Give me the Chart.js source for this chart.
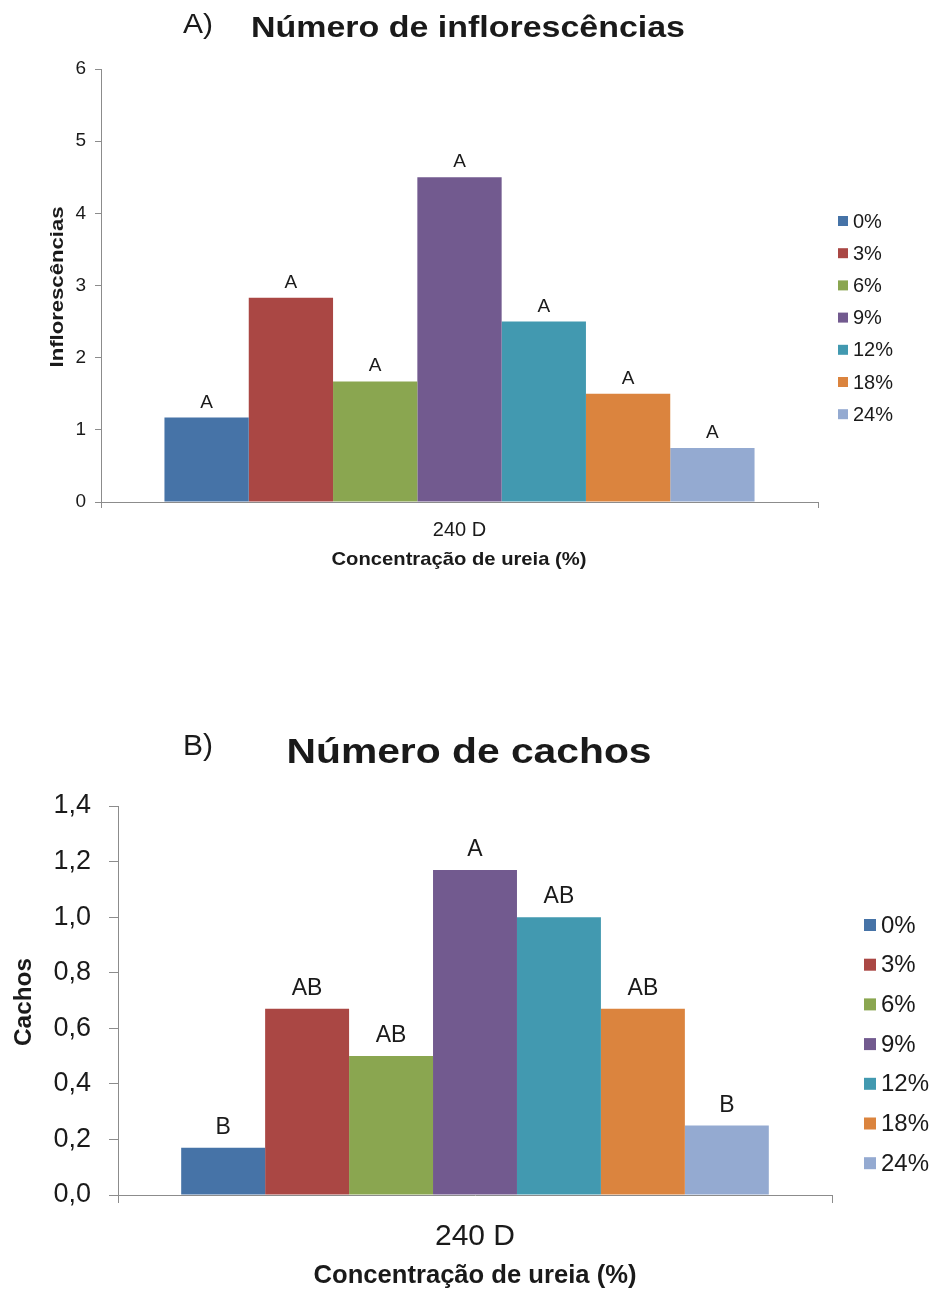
<!DOCTYPE html>
<html>
<head>
<meta charset="utf-8">
<script src="https://cdn.jsdelivr.net/npm/chart.js@4.4.1/dist/chart.umd.min.js"></script>
<style>
  html, body { margin: 0; padding: 0; background: #fff; }
  body { width: 936px; height: 1289px; position: relative; overflow: hidden; }
  .panel { position: absolute; left: 0; width: 936px; }
</style>
</head>
<body>
<div class="panel" style="top:0;height:640px"><canvas id="chartA" width="936" height="640"></canvas></div>
<div class="panel" style="top:660px;height:629px"><canvas id="chartB" width="936" height="629"></canvas></div>
<script>
// Data (one category, seven urea concentrations)
const CATEGORIES = ["240 D"];
const CONCENTRATIONS = ["0%", "3%", "6%", "9%", "12%", "18%", "24%"];
const COLORS = ["#4673a7", "#aa4744", "#8aa650", "#725a8f", "#4299b0", "#db843e", "#94aad1"];

const INFLORESCENCES = [1.17, 2.83, 1.67, 4.5, 2.5, 1.5, 0.75];
const INFL_LETTERS = ["A", "A", "A", "A", "A", "A", "A"];
const INFL_TICKS = [0, 1, 2, 3, 4, 5, 6];
const INFL_TICK_LABELS = ["0", "1", "2", "3", "4", "5", "6"];

const CACHOS = [0.17, 0.67, 0.5, 1.17, 1.0, 0.67, 0.25];
const CACHOS_LETTERS = ["B", "AB", "AB", "A", "AB", "AB", "B"];
const CACHOS_TICKS = [0, 0.2, 0.4, 0.6, 0.8, 1.0, 1.2, 1.4];
const CACHOS_TICK_LABELS = ["0,0", "0,2", "0,4", "0,6", "0,8", "1,0", "1,2", "1,4"];

const FONT = "'Liberation Sans', Arial, sans-serif";
const INK = "#1a1a1a";
const AXIS = "#8c8c8c";

Chart.defaults.font.family = FONT;
Chart.defaults.color = INK;

// draw text squeezed/stretched to a given width (the source image is a bit wide)
function fitText(ctx, text, x, y, font, width, align, rotate) {
  ctx.save();
  ctx.font = font;
  const w = ctx.measureText(text).width;
  const sx = width ? width / w : 1;
  ctx.translate(x, y);
  if (rotate) ctx.rotate(-Math.PI / 2);
  ctx.scale(sx, 1);
  ctx.textAlign = align || "center";
  ctx.textBaseline = "middle";
  ctx.fillStyle = INK;
  ctx.fillText(text, 0, 0);
  ctx.restore();
}

const annotate = {
  id: "annotate",
  afterDraw(chart, args, o) {
    const ctx = chart.ctx;
    fitText(ctx, o.panel, o.panelX, o.panelY, o.panelFont, o.panelW, "left");
    fitText(ctx, o.title, o.titleX, o.titleY, o.titleFont, o.titleW);
    fitText(ctx, o.yTitle, o.yTitleX, o.yTitleY, o.yTitleFont, o.yTitleW, "center", true);
    fitText(ctx, o.xTitle, o.xTitleX, o.xTitleY, o.xTitleFont, o.xTitleW);

    // significance letters above each bar
    ctx.save();
    ctx.font = o.letterFont;
    ctx.fillStyle = INK;
    ctx.textAlign = "center";
    ctx.textBaseline = "alphabetic";
    chart.data.datasets.forEach((ds, i) => {
      const bar = chart.getDatasetMeta(i).data[0];
      ctx.fillText(o.letters[i], bar.x, bar.y - o.letterGap);
    });
    ctx.restore();

    // legend on the right
    ctx.save();
    ctx.font = o.legendFont;
    ctx.textBaseline = "middle";
    ctx.textAlign = "left";
    chart.data.datasets.forEach((ds, i) => {
      const y = o.legendY + i * o.legendDy;
      ctx.fillStyle = ds.backgroundColor;
      ctx.fillRect(o.legendX, y - o.legendBox / 2, o.legendBox, o.legendBox);
      ctx.fillStyle = INK;
      ctx.fillText(ds.label, o.legendX + o.legendBox + 5, y + 1);
    });
    ctx.restore();
  }
};

function makeChart(id, p) {
  const canvas = document.getElementById(id);
  return new Chart(canvas, {
    type: "bar",
    data: {
      labels: CATEGORIES,
      datasets: CONCENTRATIONS.map((c, i) => ({
        label: c,
        data: [p.values[i]],
        backgroundColor: COLORS[i],
        borderWidth: 0,
        barPercentage: 1,
        categoryPercentage: 0.823
      }))
    },
    options: {
      responsive: false,
      animation: false,
      layout: { padding: { left: 0, top: p.area.top, right: canvas.width - p.area.right, bottom: 0 } },
      plugins: {
        legend: { display: false },
        tooltip: { enabled: false },
        annotate: p.notes
      },
      scales: {
        x: {
          afterFit: (s) => { s.height = canvas.height - p.area.bottom; },
          grid: { display: true, drawOnChartArea: false, drawTicks: true, tickLength: p.xTickLen, color: AXIS },
          border: { display: true, color: AXIS, width: 1 },
          ticks: { font: { size: p.xTickSize }, color: INK, padding: p.xTickPad }
        },
        y: {
          min: p.ticks[0],
          max: p.ticks[p.ticks.length - 1],
          afterFit: (s) => { s.width = p.area.left; },
          afterBuildTicks: (s) => { s.ticks = p.ticks.map((v) => ({ value: v })); },
          grid: { display: true, drawOnChartArea: false, drawTicks: true, tickLength: p.yTickLen, color: AXIS },
          border: { display: true, color: AXIS, width: 1 },
          ticks: {
            font: { size: p.yTickSize }, color: INK, padding: p.yTickPad,
            callback: (v, i) => p.tickLabels[i]
          }
        }
      }
    },
    plugins: [annotate]
  });
}

makeChart("chartA", {
  values: INFLORESCENCES,
  ticks: INFL_TICKS,
  tickLabels: INFL_TICK_LABELS,
  area: { left: 101, right: 818, top: 69, bottom: 502 },
  xTickLen: 6, xTickSize: 20, xTickPad: 10,
  yTickLen: 6, yTickSize: 19, yTickPad: 9,
  notes: {
    panel: "A)", panelX: 183, panelY: 26, panelFont: `27px ${FONT}`, panelW: 30,
    title: "Número de inflorescências", titleX: 468, titleY: 29, titleFont: `bold 30px ${FONT}`, titleW: 434,
    yTitle: "Inflorescências", yTitleX: 58, yTitleY: 287, yTitleFont: `bold 19px ${FONT}`, yTitleW: 161,
    xTitle: "Concentração de ureia (%)", xTitleX: 459, xTitleY: 560, xTitleFont: `bold 19px ${FONT}`, xTitleW: 255,
    letters: INFL_LETTERS, letterFont: `19px ${FONT}`, letterGap: 10,
    legendX: 838, legendY: 221, legendDy: 32.2, legendBox: 10, legendFont: `20px ${FONT}`
  }
});

makeChart("chartB", {
  values: CACHOS,
  ticks: CACHOS_TICKS,
  tickLabels: CACHOS_TICK_LABELS,
  area: { left: 118, right: 832, top: 146, bottom: 535 },
  xTickLen: 8, xTickSize: 30, xTickPad: 16,
  yTickLen: 9, yTickSize: 27, yTickPad: 18,
  notes: {
    panel: "B)", panelX: 183, panelY: 87, panelFont: `29px ${FONT}`, panelW: 30,
    title: "Número de cachos", titleX: 469, titleY: 93, titleFont: `bold 35px ${FONT}`, titleW: 365,
    yTitle: "Cachos", yTitleX: 24, yTitleY: 342, yTitleFont: `bold 24px ${FONT}`, yTitleW: 88,
    xTitle: "Concentração de ureia (%)", xTitleX: 475, xTitleY: 616, xTitleFont: `bold 25px ${FONT}`, xTitleW: 323,
    letters: CACHOS_LETTERS, letterFont: `23px ${FONT}`, letterGap: 14,
    legendX: 864, legendY: 265, legendDy: 39.7, legendBox: 12, legendFont: `24px ${FONT}`
  }
});
</script>
</body>
</html>
